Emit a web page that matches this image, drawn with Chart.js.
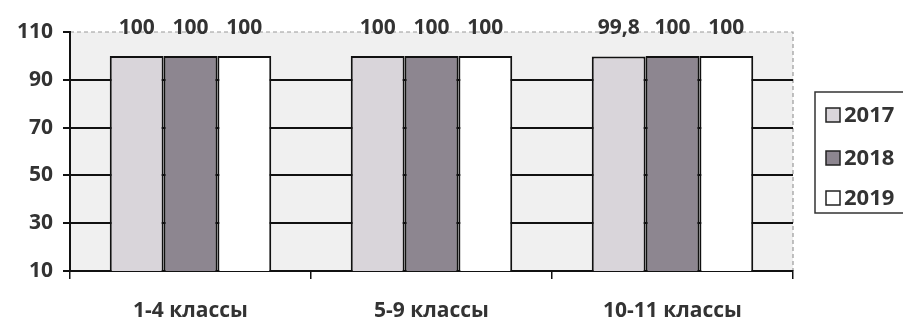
<!DOCTYPE html>
<html>
<head>
<meta charset="utf-8">
<script src="https://cdn.jsdelivr.net/npm/chart.js@4.4.1/dist/chart.umd.min.js"></script>
<style>
  html, body { margin: 0; padding: 0; background: #fff; }
  #wrap { width: 903px; height: 319px; }
</style>
</head>
<body>
<div id="wrap"><canvas id="grafica"></canvas></div>
<script>
const categorias = ["1-4 классы", "5-9 классы", "10-11 классы"];
const anios = ["2017", "2018", "2019"];
const valores2017 = [100, 100, 99.8];
const valores2018 = [100, 100, 100];
const valores2019 = [100, 100, 100];
const ticksY = [10, 30, 50, 70, 90, 110];

const colores = ["#d9d5da", "#8d8690", "#ffffff"];
const fuente = "'Open Sans', sans-serif";

const formato = (v) => String(v).replace(".", ",");

// fondo del area y bordes punteados
const fondoPlugin = {
  id: "fondo",
  beforeDraw(chart) {
    const { ctx, chartArea: a } = chart;
    ctx.save();
    ctx.fillStyle = "#f0f0f0";
    ctx.fillRect(a.left, a.top, a.right - a.left, a.bottom - a.top);
    ctx.strokeStyle = "#9a9a9a";
    ctx.lineWidth = 1.2;
    ctx.setLineDash([4, 3]);
    ctx.beginPath();
    ctx.moveTo(a.left, a.top);
    ctx.lineTo(a.right, a.top);
    ctx.lineTo(a.right, a.bottom);
    ctx.stroke();
    ctx.restore();
  },
};

// etiquetas de valores encima
const etiquetasPlugin = {
  id: "etiquetas",
  afterDatasetsDraw(chart) {
    const { ctx, chartArea: a } = chart;
    ctx.save();
    ctx.font = "bold 21px " + fuente;
    ctx.fillStyle = "#333";
    ctx.textAlign = "center";
    ctx.textBaseline = "middle";
    chart.data.datasets.forEach((ds, i) => {
      chart.getDatasetMeta(i).data.forEach((bar, j) => {
        ctx.fillText(formato(ds.data[j]), bar.x, a.top - 4);
      });
    });
    ctx.restore();
  },
};

// leyenda con recuadro
const leyendaPlugin = {
  id: "leyenda",
  afterDraw(chart) {
    const { ctx, chartArea: a } = chart;
    const x = a.right + 22;
    const top = 92;
    ctx.save();
    ctx.strokeStyle = "#333";
    ctx.lineWidth = 1.5;
    ctx.strokeRect(x, top, 120, 121);
    ctx.font = "bold 22px " + fuente;
    ctx.textBaseline = "middle";
    const filas = [115, 158, 198];
    anios.forEach((anio, i) => {
      const y = filas[i];
      ctx.fillStyle = colores[i];
      ctx.fillRect(x + 11, y - 7, 14, 14);
      ctx.strokeStyle = "#222";
      ctx.lineWidth = 1.5;
      ctx.strokeRect(x + 11, y - 7, 14, 14);
      ctx.fillStyle = "#333";
      ctx.fillText(anio, x + 29, y + 1);
    });
    ctx.restore();
  },
};

const data = {
  labels: categorias,
  datasets: [valores2017, valores2018, valores2019].map((valores, i) => ({
    label: anios[i],
    data: valores,
    backgroundColor: colores[i],
    borderColor: "#111",
    borderWidth: 2,
    borderSkipped: "bottom",
    categoryPercentage: 0.67,
    barPercentage: 1,
  })),
};

const options = {
  responsive: true,
  maintainAspectRatio: false,
  animation: false,
  layout: { padding: { top: 32, right: 110, left: 0, bottom: 0 } },
  plugins: {
    legend: { display: false },
    tooltip: { enabled: false },
  },
  scales: {
    x: {
      grid: {
        display: true,
        drawOnChartArea: false,
        offset: true,
        tickLength: 8,
        color: "#111",
        lineWidth: 1.5,
      },
      border: { color: "#111", width: 2 },
      ticks: {
        color: "#333",
        font: { family: fuente, size: 21, weight: "bold" },
        padding: 19,
      },
      afterFit: (scale) => { scale.height = 48; },
    },
    y: {
      min: 10,
      max: 110,
      afterBuildTicks: (scale) => { scale.ticks = ticksY.map((v) => ({ value: v })); },
      grid: {
        color: (c) => (c.tick && (c.tick.value === 110 || c.tick.value === 10) ? "rgba(0,0,0,0)" : "#111"),
        tickColor: "#111",
        lineWidth: 2,
        tickLength: 7,
      },
      border: { color: "#111", width: 2 },
      ticks: {
        color: "#333",
        font: { family: fuente, size: 21, weight: "bold" },
        padding: 10,
      },
      afterFit: (scale) => { scale.width = 70; },
    },
  },
};

new Chart("grafica", {
  type: "bar",
  data,
  options,
  plugins: [fondoPlugin, etiquetasPlugin, leyendaPlugin],
});
</script>
</body>
</html>
